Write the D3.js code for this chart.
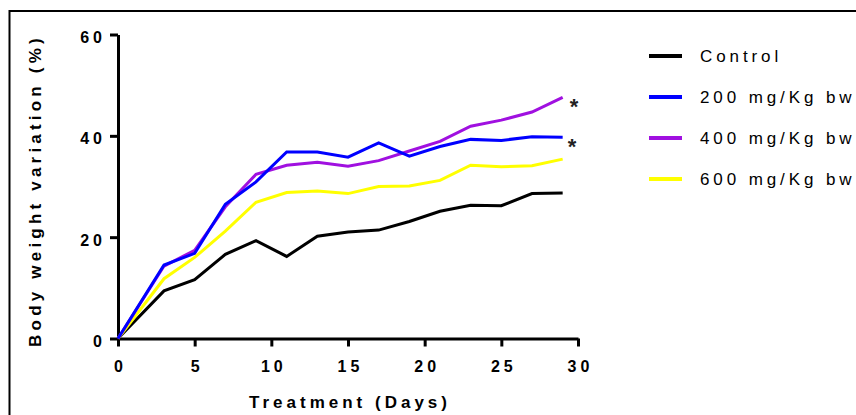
<!DOCTYPE html>
<html>
<head>
<meta charset="utf-8">
<script src="https://cdn.jsdelivr.net/npm/d3@7/dist/d3.min.js"></script>
<style>
    body { margin: 0; background: #fff; }
    svg { display: block; font-family: "Liberation Sans", Arial, sans-serif; }
</style>
</head>
<body>
<script>
// Treatment days
var days = [0, 3, 5, 7, 9, 11, 13, 15, 17, 19, 21, 23, 25, 27, 29];

// Body weight variation (%) per group
var control = [0, 9.4, 11.6, 16.6, 19.3, 16.2, 20.2, 21.0, 21.4, 23.1, 25.1, 26.3, 26.2, 28.6, 28.7];
var dose200 = [0, 14.5, 16.8, 26.5, 30.9, 36.8, 36.8, 35.8, 38.6, 36.0, 37.9, 39.3, 39.1, 39.8, 39.7];
var dose400 = [0, 14.3, 17.4, 26.0, 32.4, 34.2, 34.8, 34.0, 35.1, 37.0, 38.9, 41.9, 43.1, 44.7, 47.6];
var dose600 = [0, 11.8, 16.0, 21.2, 26.9, 28.8, 29.1, 28.6, 30.0, 30.1, 31.2, 34.2, 33.9, 34.1, 35.4];

var seriesNames = ['Control', '200 mg/Kg bw', '400 mg/Kg bw', '600 mg/Kg bw'];
var xTicks = [0, 5, 10, 15, 20, 25, 30];
var yTicks = [0, 20, 40, 60];
var starred = ['400 mg/Kg bw', '200 mg/Kg bw'];

var colors = {
    'Control': '#000000',
    '200 mg/Kg bw': '#0000ff',
    '400 mg/Kg bw': '#a010e0',
    '600 mg/Kg bw': '#ffff00'
};

var width = 856,
    height = 415;

var series = [
    {name: seriesNames[0], values: control},
    {name: seriesNames[1], values: dose200},
    {name: seriesNames[2], values: dose400},
    {name: seriesNames[3], values: dose600}
];

var svg = d3.select('body').append('svg')
    .attr('width', width)
    .attr('height', height);

// outer frame (only top and left edges are visible)
svg.append('rect')
    .attr('x', 9.5)
    .attr('y', 11)
    .attr('width', 900)
    .attr('height', 500)
    .attr('fill', 'none')
    .attr('stroke', '#000')
    .attr('stroke-width', 2);

var x = d3.scaleLinear().domain([0, 30]).range([118, 578]);
var y = d3.scaleLinear().domain([0, 60]).range([338.5, 34.5]);

// x axis
var xAxis = svg.append('g')
    .attr('transform', 'translate(0,' + y(0) + ')')
    .call(d3.axisBottom(x).tickValues(xTicks).tickSize(8).tickPadding(14).tickSizeOuter(0));

// y axis
var yAxis = svg.append('g')
    .attr('transform', 'translate(' + x(0) + ',0)')
    .call(d3.axisLeft(y).tickValues(yTicks).tickSize(8).tickPadding(4).tickSizeOuter(0));

[xAxis, yAxis].forEach(function (g) {
    g.select('.domain').attr('stroke-width', 3);
    g.selectAll('.tick line').attr('stroke-width', 3);
    g.selectAll('.tick text')
        .attr('font-family', '"Liberation Sans", Arial, sans-serif')
        .attr('font-size', 16)
        .attr('font-weight', 'bold')
        .attr('fill', '#000')
        .style('letter-spacing', '4px');
});
yAxis.selectAll('.tick text').attr('dy', '0.5em');
xAxis.selectAll('.tick text').attr('dx', '2px');

// axis titles
svg.append('text')
    .attr('x', (x(0) + x(30)) / 2 + 2)
    .attr('y', 408)
    .attr('text-anchor', 'middle')
    .attr('font-size', 17)
    .attr('font-weight', 'bold')
    .style('letter-spacing', '4px')
    .text('Treatment (Days)');

svg.append('text')
    .attr('transform', 'translate(41,' + ((y(0) + y(60)) / 2 + 4) + ') rotate(-90)')
    .attr('text-anchor', 'middle')
    .attr('font-size', 17)
    .attr('font-weight', 'bold')
    .style('letter-spacing', '4.2px')
    .text('Body weight variation (%)');

// lines, drawn so that blue sits above purple
var line = d3.line()
    .x(function (d, i) { return x(days[i]); })
    .y(function (d) { return y(d); });

var drawOrder = [series[0], series[3], series[2], series[1]];

svg.append('g').selectAll('path')
    .data(drawOrder)
    .enter().append('path')
    .attr('d', function (s) { return line(s.values); })
    .attr('fill', 'none')
    .attr('stroke', function (s) { return colors[s.name]; })
    .attr('stroke-width', 3)
    .attr('stroke-linejoin', 'miter');

// significance marks at the last point
series.filter(function (s) { return starred.indexOf(s.name) >= 0; }).forEach(function (s, i) {
    var last = s.values.length - 1;
    svg.append('text')
        .attr('x', x(days[last]) + 5 + i * 2)
        .attr('y', y(s.values[last]) + 17)
        .attr('font-size', 22)
        .attr('font-weight', 'bold')
        .attr('fill', '#222')
        .text('*');
});

// legend
var legend = svg.append('g').selectAll('g')
    .data(series)
    .enter().append('g')
    .attr('transform', function (s, i) { return 'translate(649,' + (56 + i * 41) + ')'; });

legend.append('line')
    .attr('x1', 0)
    .attr('x2', 33)
    .attr('stroke', function (s) { return colors[s.name]; })
    .attr('stroke-width', 4);

legend.append('text')
    .attr('x', 51)
    .attr('y', 6)
    .attr('font-size', 17)
    .style('letter-spacing', '3.9px')
    .text(function (s) { return s.name; });
</script>
</body>
</html>
